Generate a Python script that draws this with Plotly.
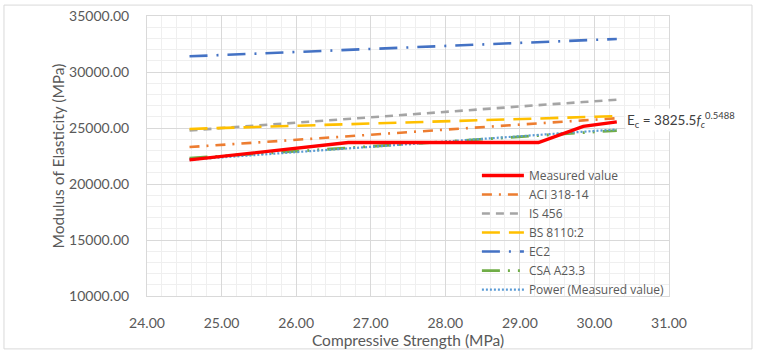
import plotly.graph_objects as go

# Compressive strength (MPa)
fc = [24.57, 26.70, 29.25, 29.85, 30.30]

measured = [22150, 23700, 23700, 25150, 25550]
aci_318 = [23297, 24286, 25419, 25678, 25871]
is_456 = [24784, 25836, 27042, 27318, 27523]
bs_8110 = [24914, 25340, 25850, 25970, 26060]
ec2 = [31400, 32000, 32680, 32840, 32950]
csa_a233 = [22306, 23252, 24337, 24586, 24770]
power_fit = [22169, 23203, 24394, 24669, 24870]

names = ["Measured value", "ACI 318-14", "IS 456", "BS 8110:2", "EC2", "CSA A23.3", "Power (Measured value)"]
series = [measured, aci_318, is_456, bs_8110, ec2, csa_a233, power_fit]
colors = ["#FF0000", "#ED7D31", "#A5A5A5", "#FFC000", "#4472C4", "#70AD47", "#5B9BD5"]
dashes = ["solid", "10px,7px,2px,7px", "8px,6px", "18px,9px", "18px,9px,2px,9px",
          "18px,8px,2px,8px,2px,8px", "2px,2px"]
widths = [3.4, 2.6, 2.6, 2.6, 2.6, 2.8, 2.2]

FONT = "Lato"
TXT = "#595959"

fig = go.Figure()
for i in range(7):
    fig.add_trace(go.Scatter(
        x=fc, y=series[i], name=names[i], mode="lines",
        line=dict(color=colors[i], dash=dashes[i], width=widths[i]),
        legendrank=i + 1,
    ))
# measured line on top
fig.data = fig.data[1:] + fig.data[:1]

fig.update_layout(
    width=757, height=357,
    margin=dict(l=147, r=88, t=16, b=61),
    paper_bgcolor="white", plot_bgcolor="white",
    font=dict(family=FONT, color=TXT, size=14),
    showlegend=True,
    legend=dict(x=0.632, y=0.482, xanchor="left", yanchor="top",
                bgcolor="rgba(0,0,0,0)", font=dict(family="Open Sans", size=12, color=TXT),
                itemwidth=42, tracegroupgap=0),
    xaxis=dict(range=[24, 31], dtick=1, tickformat=".2f", automargin=False,
               showgrid=True, gridcolor="#D9D9D9", gridwidth=1,
               minor=dict(dtick=0.2, showgrid=True, gridcolor="#EFEFEF"),
               showline=True, mirror=True, linecolor="#D9D9D9",
               zeroline=False, ticks="", ticklen=0, ticklabelstandoff=14,
               title=dict(text="Compressive Strength (MPa)", font=dict(size=15.5, color=TXT), standoff=4),
               tickfont=dict(size=14, color=TXT)),
    yaxis=dict(range=[10000, 35000], dtick=5000, tickformat=".2f", automargin=False,
               showgrid=True, gridcolor="#D9D9D9", gridwidth=1,
               minor=dict(dtick=1000, showgrid=True, gridcolor="#EFEFEF"),
               showline=True, mirror=True, linecolor="#D9D9D9",
               zeroline=False, ticks="", ticklen=0, ticklabelstandoff=14,
               title=dict(text="Modulus of Elasticity (MPa)", font=dict(size=15.5, color=TXT), standoff=0),
               tickfont=dict(size=14, color=TXT)),
)

fig.add_annotation(
    xref="paper", yref="paper", x=0.915, y=0.63, xanchor="left", yanchor="middle",
    text="E<sub>c</sub> = 3825.5<i>f</i><sub><i>c</i></sub><sup>0.5488</sup>",
    showarrow=False, bgcolor="white", font=dict(size=13.5, color="#404040"),
)

# outer chart border
fig.add_shape(type="rect", xref="paper", yref="paper",
              x0=-0.274, x1=1.159, y0=-0.189, y1=1.039,
              line=dict(color="#D9D9D9", width=1), layer="below")

fig.write_html("out.html", config={"displayModeBar": False},
               post_script="document.body.style.margin='0px';")
